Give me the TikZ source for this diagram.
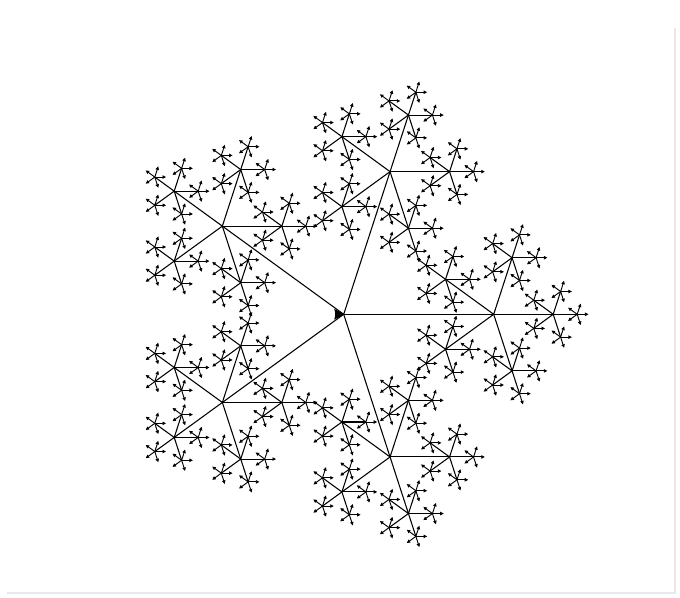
\documentclass[tikz,border=0pt]{standalone}
\usetikzlibrary{arrows.meta}
\tikzset{
  limb/.style={line width=0.8pt,black},
  twig/.style={line width=0.7pt,black,-{Latex[length=2.8pt,width=3pt]}},
  frame/.style={fill=black!9,draw=none},
  hub/.style={fill=black,draw=none}
}
\begin{document}
\begin{tikzpicture}[x=0.75pt,y=0.75pt]
\useasboundingbox (0,0) rectangle (680,-598);
\fill[frame] (673.5,-28) rectangle (675.7,-594);
\fill[frame] (7,-592) rectangle (675.7,-594);
\begin{scope}[shift={(343.7,-314.3)}]
  \foreach \a in {0,72,...,288}{
    \draw[limb] (0,0) -- (\a:150);
    \begin{scope}[shift={(\a:150)}]
      \foreach \b in {0,72,...,288}{
        \draw[limb] (0,0) -- (\b:59.5);
        \begin{scope}[shift={(\b:59.5)}]
          \foreach \c in {0,72,...,288}{
            \draw[limb] (0,0) -- (\c:24);
            \begin{scope}[shift={(\c:24)}]
              \foreach \d in {0,72,...,288}{
                \draw[twig] (0,0) -- (\d:11.5);
              }
            \end{scope}
          }
        \end{scope}
      }
    \end{scope}
  }
  \fill[hub] (0.8,0) -- (-9.5,-5.4) .. controls (-8.2,-2) and (-8.2,2) .. (-9.5,5.4) -- cycle;
\end{scope}
\end{tikzpicture}
\end{document}
